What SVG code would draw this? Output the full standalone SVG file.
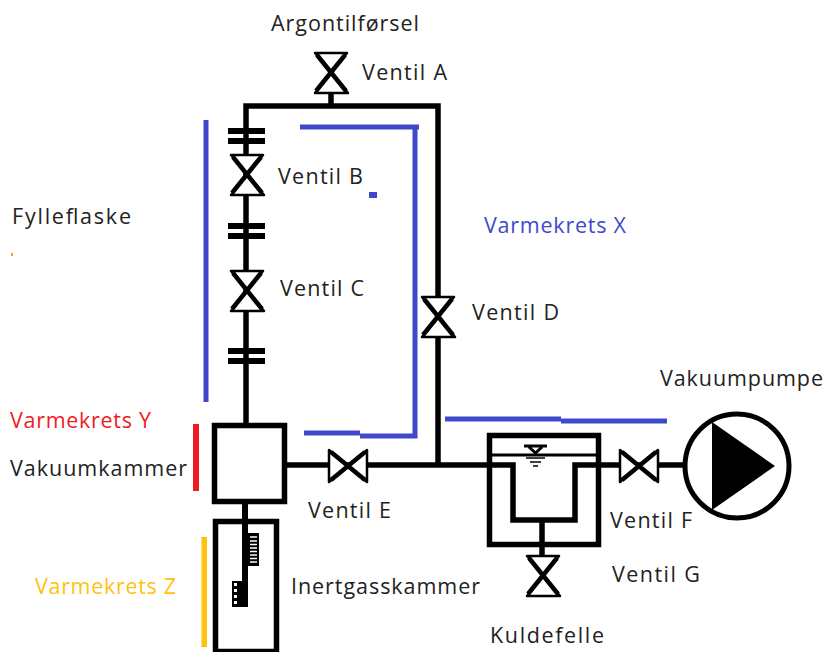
<svg xmlns="http://www.w3.org/2000/svg" width="825" height="652" viewBox="0 0 825 652">
<defs>
<style>
text{font-family:"Open Sans","Noto Sans",sans-serif;font-size:21.500px;fill:#222}
.p{fill:none;stroke:#000;stroke-width:5.500}
.f{fill:none;stroke:#000;stroke-width:6}
.t{fill:none;stroke:#000;stroke-width:3}
.v{fill:#fff;stroke:#000;stroke-width:2.500;stroke-linejoin:round}
.x{fill:none;stroke:#000;stroke-width:4.500}
.b{fill:none;stroke:#3f48cc;stroke-width:5}
</style>
<g id="vv"><polygon class="v" points="-16,-20 16,-20 -16,20 17,20"/><path class="x" d="M-14,-18L15,18M14,-18L-15,18"/></g>
<g id="vh"><polygon class="v" points="-19,-16 -19,16 19,-16 19,16"/><path class="x" d="M-17,-14L17,14M-17,14L17,-14"/></g>
</defs>
<rect width="825" height="652" fill="#fff"/>
<g id="connectors">
<path class="p" d="M331 93V106M246 425V106H438V465M287 465H513V520H575V465H683M542 520V556"/>
<path class="f" d="M228 131H265M228 141H265M228 226H265M228 236H265M228 351H265M228 361H265"/>
</g>
<g id="heating">
<path class="b" d="M206 120V402"/>
<path class="b" d="M300 127H419M415 127V436H360M304 433H360"/>
<path class="b" d="M445 419H561M561 421H667"/>
<rect x="369" y="192" width="8" height="6" fill="#3f48cc"/>
<rect x="193" y="424" width="6" height="67" fill="#ed1c24"/>
<rect x="201.500" y="537" width="5.500" height="110" fill="#ffc20e"/>
<rect x="11" y="253" width="2" height="3" fill="#f6a04d"/>
</g>
<g id="valve-a"><use href="#vv" x="331" y="73"/><text x="362" y="80" textLength="85">Ventil A</text></g>
<g id="valve-b"><use href="#vv" x="247" y="175"/><text x="278" y="184" textLength="85">Ventil B</text></g>
<g id="valve-c"><use href="#vv" x="247" y="291"/><text x="280" y="296" textLength="84">Ventil C</text></g>
<g id="valve-d"><use href="#vv" x="438" y="317"/><text x="472" y="320" textLength="87">Ventil D</text></g>
<g id="valve-e"><use href="#vh" x="348" y="466"/><text x="308" y="518" textLength="83">Ventil E</text></g>
<g id="valve-f"><use href="#vh" x="639" y="466"/><text x="610" y="528" textLength="82">Ventil F</text></g>
<g id="valve-g"><use href="#vv" x="543" y="576"/><text x="612" y="582" textLength="88">Ventil G</text></g>
<g id="vakuumkammer"><rect class="p" x="214.500" y="425.500" width="70" height="76"/><text x="10" y="476" textLength="177">Vakuumkammer</text></g>
<g id="inertgasskammer">
<rect class="p" x="215.500" y="521.500" width="61" height="130"/>
<rect x="242" y="504" width="6" height="103"/>
<rect x="248" y="533" width="11" height="33"/>
<path stroke="#fff" stroke-width="1.500" d="M250 537H257M250 541H257M250 544.500H257M250 548H257M250 551.500H257M250 555H257M250 558.500H257M250 562H257"/>
<rect x="232" y="581" width="10" height="26"/>
<path stroke="#fff" stroke-width="3" stroke-dasharray="3 3" d="M235.500 583V605"/>
<text x="291" y="594" textLength="189">Inertgasskammer</text>
</g>
<g id="kuldefelle">
<rect class="p" x="489.500" y="435.500" width="109" height="109"/>
<path class="t" d="M491 455H597"/>
<path class="t" d="M524 446H547M529 447L535.500 453L542 447"/>
<path stroke="#000" stroke-width="1.500" d="M526 458H545M530 462H541M533 466H538"/>
<text x="490" y="643" textLength="114">Kuldefelle</text>
</g>
<g id="vakuumpumpe">
<circle cx="737" cy="466" r="52" fill="#fff" stroke="#000" stroke-width="5"/>
<polygon points="712,422 775,466 712,510"/>
<text x="660" y="386" textLength="163">Vakuumpumpe</text>
</g>
<g id="labels">
<text x="271" y="31" textLength="148">Argontilførsel</text>
<text x="12" y="224" textLength="119">Fylleflaske</text>
<text x="484" y="233" textLength="142" style="fill:#3f48cc">Varmekrets X</text>
<text x="10" y="428" textLength="141" style="fill:#ed1c24">Varmekrets Y</text>
<text x="35" y="594" textLength="141" style="fill:#ffc20e">Varmekrets Z</text>
</g>
</svg>
